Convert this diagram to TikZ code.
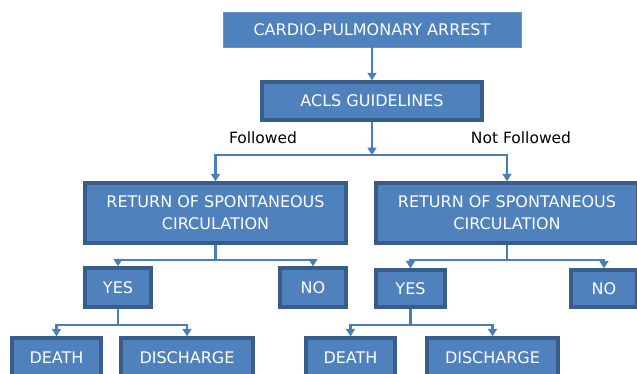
\documentclass[tikz,border=0pt]{standalone}
\usepackage{fontspec}
\setmainfont{DejaVu Sans}
\usetikzlibrary{arrows.meta}

\definecolor{boxfill}{RGB}{79,129,189}
\definecolor{boxline}{RGB}{56,93,138}
\definecolor{linkblue}{RGB}{74,126,187}

\tikzset{
  box/.style={draw=boxline, line width=3.4pt, fill=boxfill, text=white,
    inner sep=0pt, align=center, font=\fontsize{16}{22}\selectfont},
  headbox/.style={box, draw=boxfill!85!white, line width=0.8pt},
  link/.style={draw=linkblue, line width=2.4pt,
    -{Triangle[width=9pt,length=7.5pt]}},
  branch/.style={text=black, font=\fontsize{15.5}{18}\selectfont}
}

\begin{document}
\begin{tikzpicture}[x=1pt, y=-1pt]
  \clip (0,0) rectangle (637,373);
  \useasboundingbox (0,0) rectangle (637,373);

  % top of the tree
  \node[headbox, minimum width=298pt, minimum height=35pt] (arrest) at (372,29.5)
    {CARDIO-PULMONARY ARREST};
  \node[box, minimum width=220pt, minimum height=38pt] (acls) at (372,101)
    {ACLS GUIDELINES};
  \coordinate (fork) at (372,155);

  % two branches
  \node[box, minimum width=261pt, minimum height=60pt] (roscL) at (215.5,213)
    {RETURN OF SPONTANEOUS\\CIRCULATION};
  \node[box, minimum width=262pt, minimum height=60pt] (roscR) at (507,213)
    {RETURN OF SPONTANEOUS\\CIRCULATION};
  \node[branch] (followed) at (263,138) {Followed};
  \node[branch] (notfollowed) at (521,138) {Not Followed};

  % yes / no
  \node[box, minimum width=66pt, minimum height=39pt] (yesL) at (118,287.5) {YES};
  \node[box, minimum width=66pt, minimum height=39pt] (noL) at (313,287.5) {NO};
  \node[box, minimum width=69pt, minimum height=37pt] (yesR) at (410.5,288.5) {YES};
  \node[box, minimum width=66pt, minimum height=37pt] (noR) at (604,288.5) {NO};

  % outcome
  \node[box, minimum width=89pt, minimum height=40pt] (deathL) at (56.5,358) {DEATH};
  \node[box, minimum width=132pt, minimum height=40pt] (dischL) at (187,358) {DISCHARGE};
  \node[box, minimum width=89pt, minimum height=40pt] (deathR) at (350.5,358) {DEATH};
  \node[box, minimum width=131pt, minimum height=40pt] (dischR) at (492.5,358) {DISCHARGE};

  \draw[link] (arrest) -- (acls);
  \draw[link] (acls) -- (fork);
  \draw[link] (fork) -| (roscL);
  \draw[link] (fork) -| (roscR);

  \draw[link] (roscL.south) -- ++(0,15) -| (yesL);
  \draw[link] (roscL.south) -- ++(0,15) -| (noL);
  \draw[link] (roscR.south) -- ++(0,15) -| (yesR);
  \draw[link] (roscR.south) -- ++(0,15) -| (noR);

  \draw[link] (yesL.south) -- ++(0,16) -| (deathL);
  \draw[link] (yesL.south) -- ++(0,16) -| (dischL);
  \draw[link] (yesR.south) -- ++(0,16) -| (deathR);
  \draw[link] (yesR.south) -- ++(0,16) -| (dischR);
\end{tikzpicture}
\end{document}
